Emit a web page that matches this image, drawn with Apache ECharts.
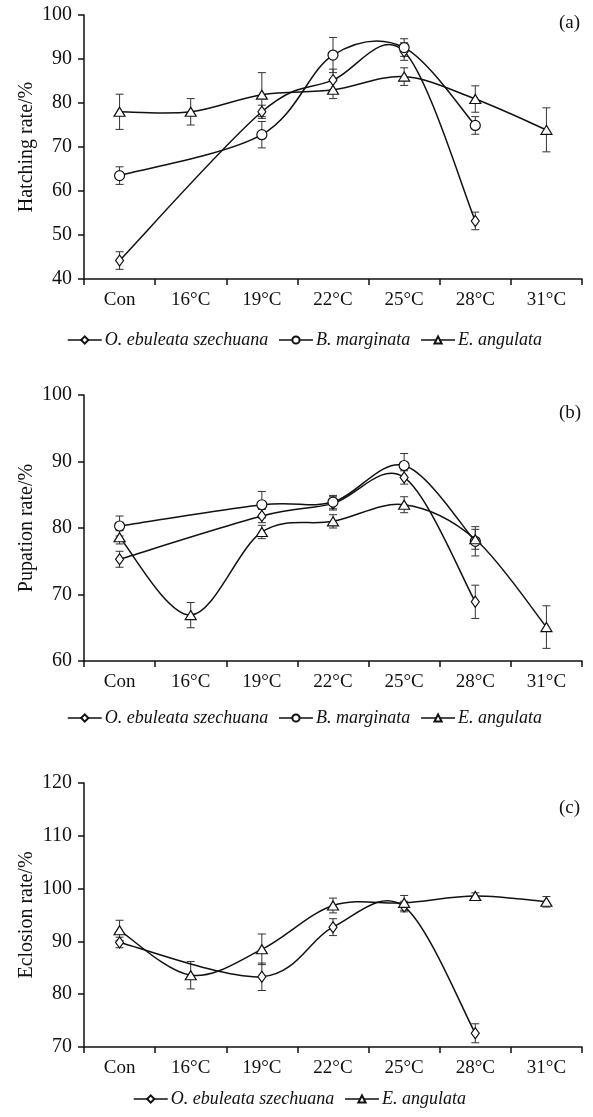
<!DOCTYPE html>
<html>
<head>
<meta charset="utf-8">
<script src="https://cdn.jsdelivr.net/npm/echarts@6/dist/echarts.min.js"></script>
<style>
html, body { margin: 0; padding: 0; background: #fff; }
#main { width: 593px; height: 1117px; }
</style>
</head>
<body>
<div id="main"></div>
<script>
var categories = ['Con', '16°C', '19°C', '22°C', '25°C', '28°C', '31°C'];
var nameO = 'O. ebuleata szechuana';
var nameB = 'B. marginata';
var nameE = 'E. angulata';

// (a) hatching rate
var hatchO = [44.2, null, 78.0, 85.2, 91.7, 53.2, null];
var hatchOErr = [2, null, 1.5, 2.5, 2, 2, null];
var hatchB = [63.5, null, 72.8, 90.9, 92.6, 74.9, null];
var hatchBErr = [2, null, 3, 4, 2, 2, null];
var hatchE = [78.0, 78.0, 81.9, 83.0, 86.0, 80.9, 73.9];
var hatchEErr = [4, 3, 5, 2, 2, 3, 5];

// (b) pupation rate
var pupO = [75.3, null, 81.8, 83.7, 87.6, 68.9, null];
var pupOErr = [1.2, null, 1, 1, 1, 2.5, null];
var pupB = [80.3, null, 83.5, 83.9, 89.4, 78.0, null];
var pupBErr = [1.5, null, 2, 1, 1.8, 2.2, null];
var pupE = [78.6, 66.9, 79.4, 81.0, 83.5, 78.3, 65.1];
var pupEErr = [1, 1.9, 1, 1, 1.2, 1.5, 3.2];

// (c) eclosion rate
var eclO = [89.8, null, 83.3, 92.7, 96.6, 72.6, null];
var eclOErr = [1, null, 2.6, 1.6, 1, 1.8, null];
var eclE = [92.1, 83.6, 88.5, 96.8, 97.3, 98.6, 97.5];
var eclEErr = [1.9, 2.6, 2.9, 1.4, 1.4, 0.6, 1];

var myChart = echarts.init(document.getElementById('main'));
var font = 'Liberation Serif';

// markers only, the curve is drawn by curveSeries
function markerSeries(name, data, idx, symbol, size) {
  return {
    name: name,
    type: 'line',
    xAxisIndex: idx,
    yAxisIndex: idx,
    data: data,
    connectNulls: true,
    symbol: symbol,
    symbolSize: size,
    lineStyle: { color: '#111', width: 1.5, opacity: 0 },
    itemStyle: { color: '#fff', borderColor: '#111', borderWidth: 1.2 },
    z: 4
  };
}

// smooth curve like the spreadsheet one (catmull-rom segments)
function curveSeries(values, idx) {
  var pts = [];
  for (var i = 0; i < values.length; i++) {
    if (values[i] != null) pts.push([i, values[i]]);
  }
  var d = [];
  for (var k = 0; k < pts.length - 1; k++) {
    var p0 = pts[Math.max(k - 1, 0)];
    var p1 = pts[k];
    var p2 = pts[k + 1];
    var p3 = pts[Math.min(k + 2, pts.length - 1)];
    d.push([p1[0], p1[1], p2[0], p2[1], p0[0], p0[1], p3[0], p3[1]]);
  }
  return {
    type: 'custom',
    xAxisIndex: idx,
    yAxisIndex: idx,
    data: d,
    encode: { x: [0, 2], y: [1, 3] },
    silent: true,
    z: 3,
    renderItem: function (params, api) {
      var a = api.coord([api.value(0), api.value(1)]);
      var b = api.coord([api.value(2), api.value(3)]);
      var p = api.coord([api.value(4), api.value(5)]);
      var n = api.coord([api.value(6), api.value(7)]);
      return {
        type: 'bezierCurve',
        shape: {
          x1: a[0], y1: a[1], x2: b[0], y2: b[1],
          cpx1: a[0] + (b[0] - p[0]) / 6, cpy1: a[1] + (b[1] - p[1]) / 6,
          cpx2: b[0] - (n[0] - a[0]) / 6, cpy2: b[1] - (n[1] - a[1]) / 6
        },
        style: { stroke: '#111', lineWidth: 1.5, fill: null }
      };
    }
  };
}

function errorSeries(data, err, idx) {
  var d = [];
  for (var i = 0; i < data.length; i++) {
    if (data[i] != null && err[i] != null) {
      d.push([i, data[i] - err[i], data[i] + err[i]]);
    }
  }
  return {
    type: 'custom',
    xAxisIndex: idx,
    yAxisIndex: idx,
    data: d,
    encode: { x: 0, y: [1, 2] },
    silent: true,
    z: 2,
    renderItem: function (params, api) {
      var lo = api.coord([api.value(0), api.value(1)]);
      var hi = api.coord([api.value(0), api.value(2)]);
      var w = 4;
      var st = { stroke: '#333', lineWidth: 1 };
      return {
        type: 'group',
        children: [
          { type: 'line', shape: { x1: lo[0], y1: lo[1], x2: hi[0], y2: hi[1] }, style: st },
          { type: 'line', shape: { x1: lo[0] - w, y1: lo[1], x2: lo[0] + w, y2: lo[1] }, style: st },
          { type: 'line', shape: { x1: hi[0] - w, y1: hi[1], x2: hi[0] + w, y2: hi[1] }, style: st }
        ]
      };
    }
  };
}

function xAxis(idx) {
  return {
    type: 'category',
    gridIndex: idx,
    data: categories,
    axisLine: { lineStyle: { color: '#111', width: 1.5 } },
    axisTick: { show: true, length: 6, lineStyle: { color: '#111', width: 1.5 } },
    axisLabel: { color: '#111', fontFamily: font, fontSize: 19, margin: 12 }
  };
}

function yAxis(idx, name, min, max) {
  return {
    type: 'value',
    gridIndex: idx,
    min: min,
    max: max,
    interval: 10,
    name: name,
    nameLocation: 'middle',
    nameGap: 47,
    nameMoveOverlap: false,
    nameTextStyle: { color: '#111', fontFamily: font, fontSize: 20 },
    splitLine: { show: false },
    axisLine: { show: true, lineStyle: { color: '#111', width: 1.5 } },
    axisTick: { show: true, length: 6, lineStyle: { color: '#111', width: 1.5 } },
    axisLabel: { color: '#111', fontFamily: font, fontSize: 20, margin: 12 }
  };
}

function legend(top, left, names) {
  return {
    top: top,
    left: left,
    data: names,
    itemWidth: 34,
    itemHeight: 9,
    itemGap: 10,
    lineStyle: { color: '#111', width: 1.5, opacity: 1 },
    textStyle: { color: '#111', fontFamily: font, fontStyle: 'italic', fontSize: 18, padding: [0, 0, 0, -2] }
  };
}

var option = {
  animation: false,
  grid: [
    { left: 84, right: 11, top: 15, height: 264 },
    { left: 84, right: 11, top: 395, height: 266 },
    { left: 84, right: 11, top: 783, height: 264 }
  ],
  xAxis: [xAxis(0), xAxis(1), xAxis(2)],
  yAxis: [
    yAxis(0, 'Hatching rate/%', 40, 100),
    yAxis(1, 'Pupation rate/%', 60, 100),
    yAxis(2, 'Eclosion rate/%', 70, 120)
  ],
  legend: [
    legend(326, 62, [nameO, nameB, nameE]),
    legend(704, 62, [nameO, nameB, nameE]),
    legend(1085, 128, [nameO, nameE])
  ],
  graphic: [
    { type: 'text', left: 559, top: 14, style: { text: '(a)', fontFamily: font, fontSize: 19, fill: '#111' } },
    { type: 'text', left: 559, top: 404, style: { text: '(b)', fontFamily: font, fontSize: 19, fill: '#111' } },
    { type: 'text', left: 559, top: 799, style: { text: '(c)', fontFamily: font, fontSize: 19, fill: '#111' } }
  ],
  series: [
    errorSeries(hatchO, hatchOErr, 0),
    errorSeries(hatchB, hatchBErr, 0),
    errorSeries(hatchE, hatchEErr, 0),
    curveSeries(hatchO, 0),
    curveSeries(hatchB, 0),
    curveSeries(hatchE, 0),
    markerSeries(nameO, hatchO, 0, 'diamond', [8, 11]),
    markerSeries(nameB, hatchB, 0, 'circle', 10),
    markerSeries(nameE, hatchE, 0, 'triangle', [11, 9]),

    errorSeries(pupO, pupOErr, 1),
    errorSeries(pupB, pupBErr, 1),
    errorSeries(pupE, pupEErr, 1),
    curveSeries(pupO, 1),
    curveSeries(pupB, 1),
    curveSeries(pupE, 1),
    markerSeries(nameO, pupO, 1, 'diamond', [8, 11]),
    markerSeries(nameB, pupB, 1, 'circle', 10),
    markerSeries(nameE, pupE, 1, 'triangle', [11, 9]),

    errorSeries(eclO, eclOErr, 2),
    errorSeries(eclE, eclEErr, 2),
    curveSeries(eclO, 2),
    curveSeries(eclE, 2),
    markerSeries(nameO, eclO, 2, 'diamond', [8, 11]),
    markerSeries(nameE, eclE, 2, 'triangle', [11, 9])
  ]
};

myChart.setOption(option);
</script>
</body>
</html>
